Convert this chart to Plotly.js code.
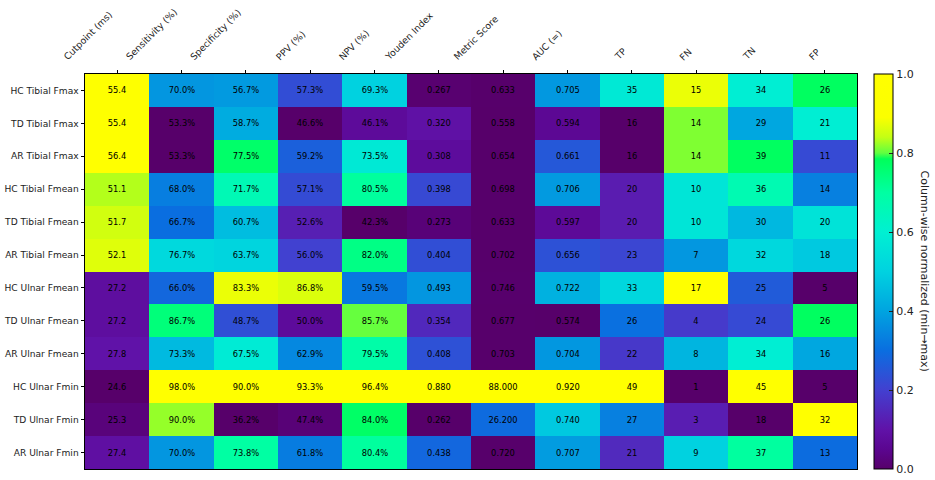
<!DOCTYPE html>
<html><head><meta charset="utf-8">
<script src="https://cdn.plot.ly/plotly-3.0.1.min.js"></script>
<style>html,body{margin:0;padding:0;background:#fff}</style>
</head><body><div id="chart" style="width:935px;height:480px"></div>
<script>
const rows = ["HC Tibial Fmax","TD Tibial Fmax","AR Tibial Fmax","HC Tibial Fmean","TD Tibial Fmean","AR Tibial Fmean",
  "HC Ulnar Fmean","TD Ulnar Fmean","AR Ulnar Fmean","HC Ulnar Fmin","TD Ulnar Fmin","AR Ulnar Fmin"];
const columns = ["Cutpoint (ms)","Sensitivity (%)","Specificity (%)","PPV (%)","NPV (%)","Youden Index",
  "Metric Score","AUC (=)","TP","FN","TN","FP"];
const cutpoint    = [55.4,55.4,56.4,51.1,51.7,52.1,27.2,27.2,27.8,24.6,25.3,27.4];
const sensitivity = [70.0,53.3,53.3,68.0,66.7,76.7,66.0,86.7,73.3,98.0,90.0,70.0];
const specificity = [56.7,58.7,77.5,71.7,60.7,63.7,83.3,48.7,67.5,90.0,36.2,73.8];
const ppv         = [57.3,46.6,59.2,57.1,52.6,56.0,86.8,50.0,62.9,93.3,47.4,61.8];
const npv         = [69.3,46.1,73.5,80.5,42.3,82.0,59.5,85.7,79.5,96.4,84.0,80.4];
const youden      = [0.267,0.320,0.308,0.398,0.273,0.404,0.493,0.354,0.408,0.880,0.262,0.438];
const metricScore = [0.633,0.558,0.654,0.698,0.633,0.702,0.746,0.677,0.703,88.000,26.200,0.720];
const auc         = [0.705,0.594,0.661,0.706,0.597,0.656,0.722,0.574,0.704,0.920,0.740,0.707];
const tp          = [35,16,16,20,20,23,33,26,22,49,27,21];
const fn          = [15,14,14,10,10,7,17,4,8,1,3,9];
const tn          = [34,29,39,36,30,32,25,24,34,45,18,37];
const fp          = [26,21,11,14,20,18,5,26,16,5,32,13];

const colValues = [cutpoint,sensitivity,specificity,ppv,npv,youden,metricScore,auc,tp,fn,tn,fp];
const colFormats = ["f1","pct","pct","pct","pct","f3","f3","f3","int","int","int","int"];

function fmt(v, f){
  if(f==="f1") return v.toFixed(1);
  if(f==="pct") return v.toFixed(1)+"%";
  if(f==="f3") return v.toFixed(3);
  return String(Math.round(v));
}

const z = [], text = [];
rows.forEach((r, i) => {
  const zr = [], tr = [];
  colValues.forEach((arr, j) => {
    const mn = Math.min(...arr), mx = Math.max(...arr);
    zr.push(mx > mn ? (arr[i]-mn)/(mx-mn) : 0);
    tr.push(fmt(arr[i], colFormats[j]));
  });
  z.push(zr); text.push(tr);
});

const colorscale = [
  [0.00,"#57006a"],[0.05,"#5b0690"],[0.10,"#6012a8"],[0.20,"#4240d0"],
  [0.30,"#0a6ee0"],[0.40,"#00a4e0"],[0.50,"#00d2e0"],[0.60,"#00f0d2"],
  [0.70,"#00ffa2"],[0.785,"#00ff5a"],[0.80,"#60ff40"],[0.84,"#c4ff14"],
  [0.89,"#fbff00"],[1.00,"#ffff00"]
];

const FONT = "DejaVu Sans, sans-serif";

const trace = {
  type: "heatmap",
  x: columns, y: rows, z: z, text: text,
  texttemplate: "%{text}",
  textfont: {family: FONT, size: 8.3, color: "#000"},
  colorscale: colorscale, zmin: 0, zmax: 1,
  hoverinfo: "skip",
  colorbar: {
    thickness: 19, len: 1, lenmode: "fraction", y: 0.5, yanchor: "middle",
    x: 1.022, xanchor: "left", xpad: 0, ypad: 0,
    outlinecolor: "#000", outlinewidth: 1,
    ticks: "inside", ticklen: 4, tickcolor: "#222", tickwidth: 1,
    tickvals: [0,0.2,0.4,0.6,0.8,1.0], tickformat: ".1f",
    tickfont: {family: FONT, size: 11, color: "#222"}
  }
};

const annotations = columns.map(c => ({
  x: c, xref: "x", y: 1, yref: "paper",
  xanchor: "right", yanchor: "bottom", yshift: 9,
  textangle: -45, showarrow: false, text: c,
  font: {family: FONT, size: 9.3, color: "#222"}
}));
annotations.push({
  x: 1.088, xref: "paper", y: 0.5, yref: "paper",
  xanchor: "center", yanchor: "middle", textangle: 90, showarrow: false,
  text: "Column-wise normalized (min→max)",
  font: {family: FONT, size: 11, color: "#222"}
});

const layout = {
  width: 935, height: 480,
  margin: {l: 85, r: 78, t: 74, b: 11},
  paper_bgcolor: "#fff", plot_bgcolor: "#fff",
  font: {family: FONT, color: "#222"},
  xaxis: {type: "category", side: "top", showticklabels: false, ticks: "outside", ticklen: 3.5,
    tickcolor: "#000", showline: true, mirror: true, linecolor: "#000", linewidth: 1,
    range: [-0.5, columns.length - 0.5], autorange: false,
    showgrid: false, zeroline: false, fixedrange: true, automargin: false},
  yaxis: {type: "category", range: [rows.length - 0.5, -0.5], autorange: false,
    ticks: "outside", ticklen: 3.5, tickcolor: "#000",
    tickfont: {family: FONT, size: 9.1, color: "#222"},
    showline: true, mirror: true, linecolor: "#000", linewidth: 1,
    showgrid: false, zeroline: false, fixedrange: true, automargin: false},
  annotations: annotations,
  showlegend: false
};

Plotly.newPlot("chart", [trace], layout, {displayModeBar: false, staticPlot: true});
</script></body></html>
